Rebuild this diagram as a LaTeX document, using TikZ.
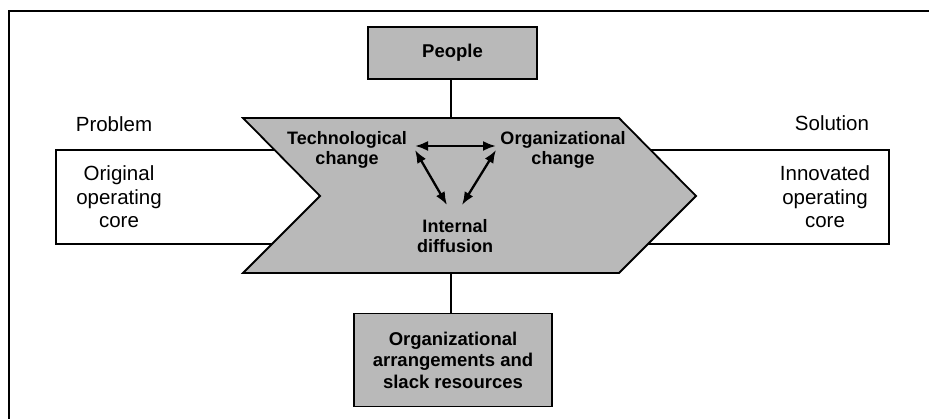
\documentclass[tikz,border=0pt]{standalone}
\usepackage{fontspec}
\setmainfont{Liberation Sans}
\usetikzlibrary{arrows.meta, positioning}
\definecolor{screengray}{RGB}{185,185,185}

\begin{document}
\begin{tikzpicture}[x=1pt, y=-1pt,
    greybox/.style={draw, line width=1.6pt, fill=screengray, inner sep=0pt,
      font=\fontsize{18.5}{21.5}\selectfont\bfseries, align=center},
    plainlabel/.style={font=\fontsize{20.5}{23.5}\selectfont, align=center},
    chevlabel/.style={font=\fontsize{18}{20}\selectfont\bfseries, align=center},
    link/.style={line width=1.1pt},
    twoway/.style={line width=2.3pt, {Latex[length=13pt,width=10pt]}-{Latex[length=13pt,width=10pt]}}]

  \useasboundingbox (0,0) rectangle (929,419);
  % page frame
  \draw[line width=1.5pt] (9,440) -- (9,11) -- (950,11);

  % operating cores
  \draw[line width=1.6pt, fill=white] (56,150) rectangle (320,244);
  \draw[line width=1.6pt, fill=white] (620,150) rectangle (889,244);
  \node[plainlabel] (problem) at (114,124) {Problem};
  \node[plainlabel] (solution) at (832,123) {Solution};
  \node[plainlabel] (origcore) at (119,197) {Original\\operating\\core};
  \node[plainlabel] (innocore) at (825,197) {Innovated\\operating\\core};

  % the innovation process
  \draw[line width=1.8pt, fill=screengray]
    (243,118) -- (619,118) -- (696,196) -- (619,273) -- (243,273) -- (320,196) -- cycle;
  \coordinate (chevtop) at (451,118);
  \coordinate (chevbot) at (451,273);

  \node[greybox, minimum width=169pt, minimum height=52pt] (people) at (452.5,53) {People};
  \node[greybox, minimum width=198pt, minimum height=93pt] (resources) at (453,360)
    {Organizational\\arrangements and\\slack resources};
  \draw[link] (people.south -| chevtop) -- (chevtop);
  \draw[link] (chevbot) -- (resources.north -| chevbot);

  \node[chevlabel] (tech) at (347,150) {Technological\\change};
  \node[chevlabel] (orgchange) at (563,150) {Organizational\\change};
  \node[chevlabel] (diffusion) at (455,236) {Internal\\diffusion};

  \coordinate (tc) at (415,146);
  \coordinate (oc) at (496,146);
  \coordinate (dl) at (447,205);
  \coordinate (dr) at (462,205);
  \draw[twoway] (tc) -- (oc);
  \draw[twoway] ([yshift=-4pt]tc) -- (dl);
  \draw[twoway] ([yshift=-4pt]oc) -- (dr);
\end{tikzpicture}
\end{document}
